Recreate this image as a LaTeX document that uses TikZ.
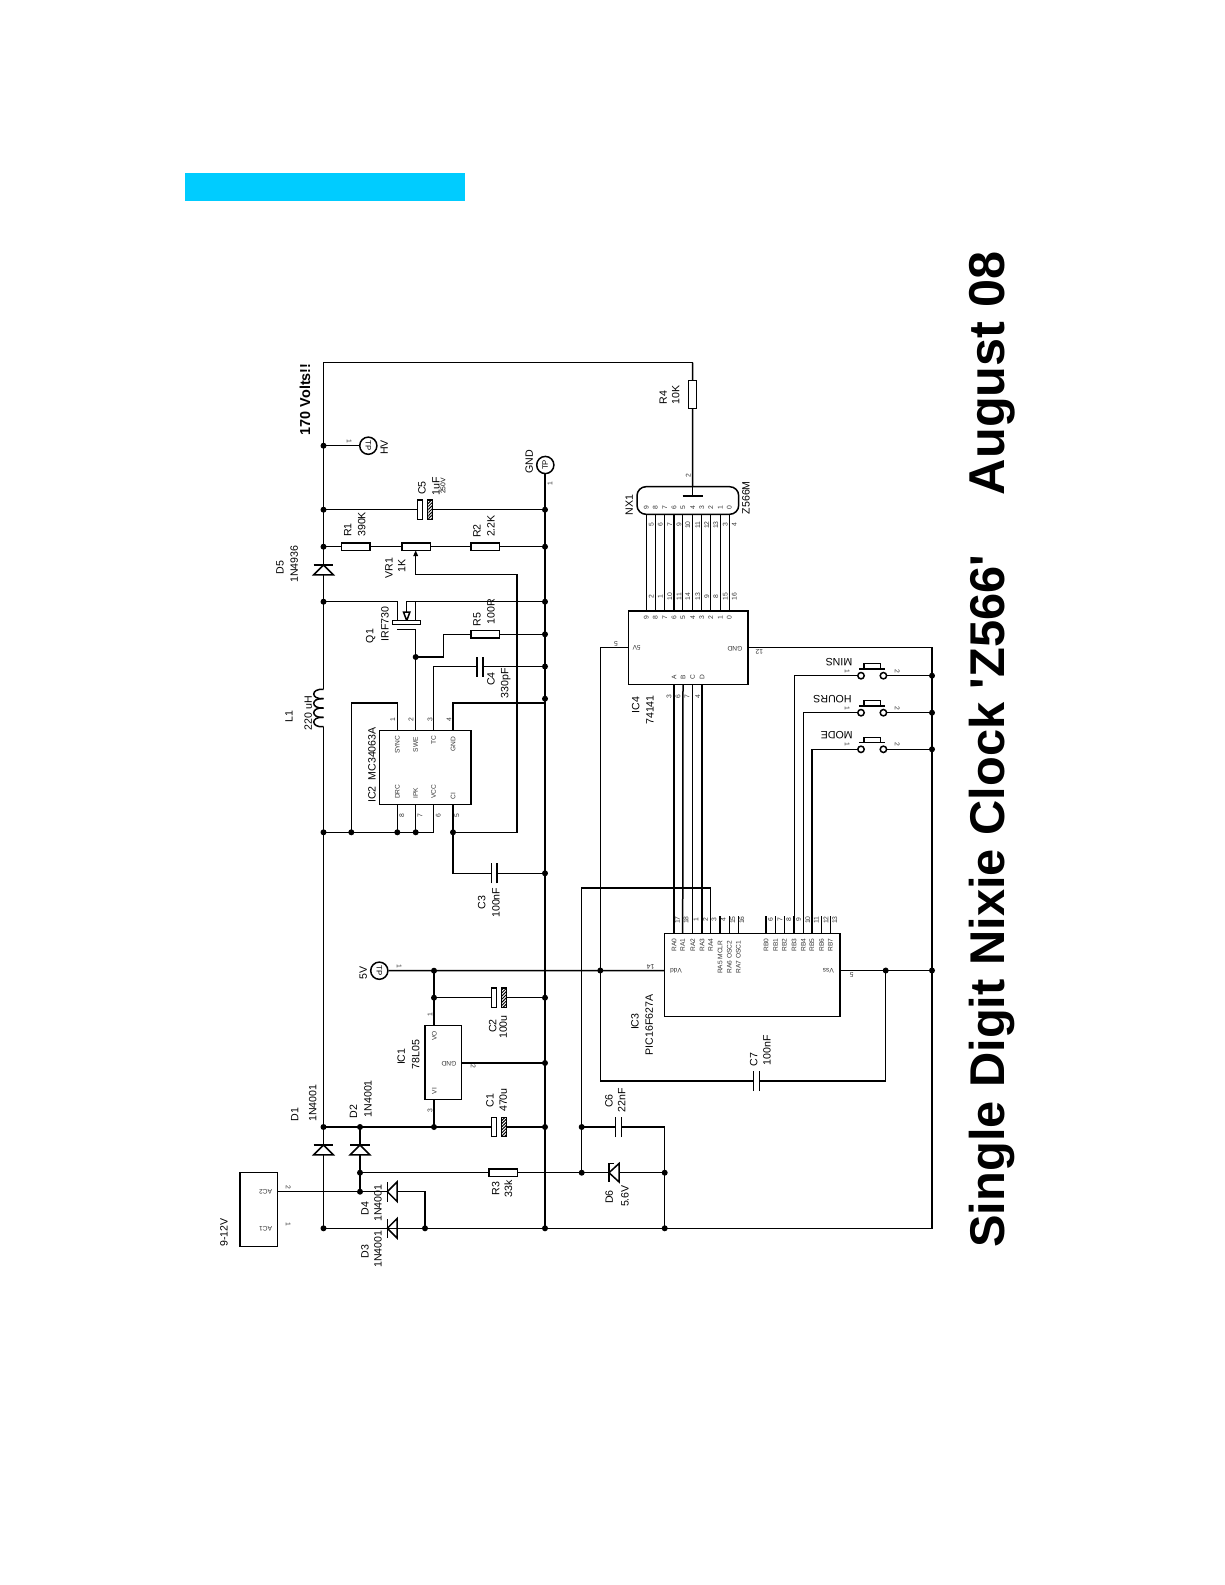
\documentclass[tikz,border=0pt]{standalone}
\usepackage{fontspec}
\setmainfont{Liberation Sans}
\newfontfamily\titlefont{Liberation Sans}
\usetikzlibrary{patterns.meta}

\definecolor{banner}{rgb}{0, 0.8, 1}

\tikzset{
	wire/.style={line width=0.75pt},
	tag/.style={font=\fontsize{5.3}{6}\selectfont, inner sep=0pt, rotate=90},
	pinno/.style={font=\fontsize{3.4}{4}\selectfont, inner sep=0pt, rotate=90, text=black!80},
	pinname/.style={font=\fontsize{3.3}{4}\selectfont, inner sep=0pt, rotate=90, text=black!80},
	heading/.style={font=\titlefont\bfseries\fontsize{24.4}{26}\selectfont, inner sep=0pt, rotate=90},
	dot/.style={circle, fill=black, inner sep=0pt, minimum size=3pt},
	chip/.style={draw, rectangle, wire, inner sep=0pt, outer sep=0pt, fill=white},
	reshoriz/.style={chip, minimum width=14.25pt, minimum height=3.8pt},
	resvert/.style={chip, minimum width=4.2pt, minimum height=14pt},
	testpoint/.style={draw, circle, wire, fill=white, inner sep=0pt, minimum size=8.6pt, font=\fontsize{3.9}{4}\selectfont},
	% pics are not flipped by the picture's yscale, so down is negative in them
	diode/.pic={
		\draw[wire] (-9.8,0) -- (9.8,0);
		\draw[wire] (0,0) -- (-9.8,-9.8) -- (9.8,-9.8) -- cycle;
		\coordinate (-k) at (0,0);
		\coordinate (-a) at (0,-9.8);
	},
	zener/.pic={
		\draw[wire] (9.2,-5) -- (9.2,0) -- (-9.2,0);
		\draw[wire] (0,0) -- (-9.2,-10) -- (9.2,-10) -- cycle;
		\coordinate (-k) at (0,0);
		\coordinate (-a) at (0,-10);
	},
	plaincap/.pic={
		\draw[wire] (-2.8,-10) -- (-2.8,10);
		\draw[wire] (2.8,-10) -- (2.8,10);
		\coordinate (-a) at (-2.8,0);
		\coordinate (-b) at (2.8,0);
	},
	polcap/.pic={
		\draw[wire] (-7.5,-9.6) rectangle (-2.5,9.6);
		\draw[wire, pattern={Lines[angle=45,distance=1.1pt,line width=0.5pt]}] (2.5,-9.6) rectangle (7.5,9.6);
		\coordinate (-a) at (-7.5,0);
		\coordinate (-b) at (7.5,0);
	},
	pushbtn/.pic={
		\draw[wire] (-11.2,0) circle (3.2);
		\draw[wire] (11.2,0) circle (3.2);
		\draw[wire] (-13.4,6.7) -- (13.2,6.7);
		\draw[wire] (-8.2,6.7) -- (-8.2,12) -- (8.2,12) -- (8.2,6.7);
		\coordinate (-a) at (-14.4,0);
		\coordinate (-b) at (14.4,0);
	}
}

\begin{document}
\begin{tikzpicture}[x=0.5pt,y=0.5pt,yscale=-1,xscale=1]
	\useasboundingbox (0,0) rectangle (1225,1585);

	% Banner and title
	\fill[banner] (185,173) rectangle (465,201);
	\node[heading, anchor=base west] (titlea) at (1004,1248) {Single Digit Nixie Clock 'Z566'};
	\node[heading, anchor=base east, font=\titlefont\bfseries\fontsize{25.2}{26}\selectfont] (titleb) at (1004,251) {August 08};

	% Named points on the wires
	\coordinate (railtop) at (323.5,362.7);
	\coordinate (topright) at (692.7,362.7);
	\coordinate (jhv) at (323.5,445.7);
	\coordinate (jc5) at (323.5,509.7);
	\coordinate (jr1) at (323.5,546.7);
	\coordinate (jdrain) at (323.5,601.7);
	\coordinate (lone) at (323.5,689.3);
	\coordinate (ltwo) at (323.5,726.7);
	\coordinate (jvcc) at (323.5,832.3);
	\coordinate (jin) at (323.5,1127);
	\coordinate (jac) at (323.5,1228.3);
	\coordinate (gtop) at (545,473);
	\coordinate (gc5) at (545,509.7);
	\coordinate (gr2) at (545,546.7);
	\coordinate (gq) at (545,601.7);
	\coordinate (gr5) at (545,634.3);
	\coordinate (gc4) at (545,666.5);
	\coordinate (gicdot) at (545,698.7);
	\coordinate (gic) at (545,703);
	\coordinate (gc3) at (545,873.3);
	\coordinate (gc2) at (545,997.7);
	\coordinate (gic1) at (545,1063);
	\coordinate (gc1) at (545,1127);
	\coordinate (gbot) at (545,1228.3);
	\coordinate (ic2a) at (397.3,730.7);
	\coordinate (ic2b) at (415.7,730.7);
	\coordinate (ic2c) at (433.7,730.7);
	\coordinate (ic2d) at (453,730.7);
	\coordinate (ic2h) at (397.3,804.7);
	\coordinate (ic2g) at (415.7,804.7);
	\coordinate (ic2f) at (433.7,804.7);
	\coordinate (ic2e) at (453,804.7);

	% Main rails
	\draw[wire] (topright) -- (railtop) -- (jr1);
	\draw[wire] (gtop) -- (gbot);
	\draw[wire] (jac) -- (932,1228.3) -- (932,647.7) -- (748,647.7);

	% Rail from D5 through L1 and on to D1
	\pic (D5) at (323.5,565) {diode};
	\pic (D1) at (323.5,1145) {diode};
	\draw[wire] (jr1) -- (D5-k);
	\draw[wire] (D5-a) -- (lone);
	\foreach \k in {0,1,2,3}
		\draw[wire] (323.5,689.3+9.35*\k) .. controls (310.5,688.3+9.35*\k) and (310.5,699.7+9.35*\k) .. (323.5,698.65+9.35*\k);
	\draw[wire] (ltwo) -- (D1-k);
	\draw[wire] (D1-a) -- (jac);

	% HV and GND test points
	\node[testpoint, rotate=-90] (tphv) at (368.3,445.7) {TP};
	\node[testpoint, rotate=90] (tpgnd) at (545.3,465) {TP};
	\draw[wire] (jhv) -- (tphv);
	\node[tag] (lhv) at (384.3,447.3) {HV};
	\node[tag] (lgnd) at (529.3,461.7) {GND};
	\node[pinno, rotate=-180] (phv) at (349.3,441) {1};
	\node[pinno] (pgnd) at (550,484) {1};
	\node[tag, font=\bfseries\fontsize{7.2}{8}\selectfont] (lvolts) at (305,399.3) {170 Volts!!};

	% C5
	\pic (C5) at (424.8,509.7) {polcap};
	\draw[wire] (jc5) -- (C5-a);
	\draw[wire] (C5-b) -- (gc5);
	\node[tag] (lc5) at (422,488) {C5};
	\node[tag] (vc5) at (436,486) {1uF};
	\node[tag, font=\fontsize{3.4}{4}\selectfont] (wc5) at (443,486) {250V};

	% R1, VR1, R2
	\node[reshoriz] (R1) at (355.6,546.7) {};
	\node[reshoriz] (VR1) at (416.1,546.7) {};
	\node[reshoriz] (R2) at (485.1,546.7) {};
	\draw[wire] (jr1) -- (R1.west);
	\draw[wire] (R1.east) -- (VR1.west);
	\draw[wire] (VR1.east) -- (R2.west);
	\draw[wire] (R2.east) -- (gr2);
	\node[tag] (lr1) at (347.7,530) {R1};
	\node[tag] (vr1) at (361.7,524.3) {390K};
	\node[tag] (lvr1) at (389,568.3) {VR1};
	\node[tag] (vvr1) at (401.7,565.7) {1K};
	\node[tag] (lr2) at (477,531) {R2};
	\node[tag] (vr2) at (491,526) {2.2K};
	\node[tag] (ld5) at (280,567.3) {D5};
	\node[tag] (vd5) at (294.3,564) {1N4936};

	% Wiper back to pin 5 of IC2
	\coordinate (jci) at (453,832.3);
	\draw[wire] (jci) -- (517,832.3) -- (517,574.3) -- (415.7,574.3) -- (415.7,552);
	\fill (415.7,550.5) -- (413.2,556) -- (418.2,556) -- cycle;

	% Q1
	\coordinate (jgate) at (415.7,657);
	\draw[wire] (jdrain) -- (397.3,601.7) -- (397.3,620.7);
	\draw[wire] (gq) -- (406.7,601.7) -- (406.7,612);
	\draw[wire] (415.7,601.7) -- (415.7,620.7);
	\draw[wire] (403.5,612) -- (409.9,612) -- (406.7,620.7) -- cycle;
	\node[chip, fill=white, minimum width=13.8pt, minimum height=2pt] (Q1bar) at (406.5,622.7) {};
	\draw[wire] (397.3,629.3) -- (415.7,629.3) -- (ic2b);
	\node[tag] (lq1) at (370.7,636) {Q1};
	\node[tag] (vq1) at (385,624) {IRF730};

	% R5
	\node[reshoriz] (R5) at (485.1,634.3) {};
	\draw[wire] (jgate) -- (443.3,657) -- (443.3,634.3) -- (R5.west);
	\draw[wire] (R5.east) -- (gr5);
	\node[tag] (lr5) at (477,619.3) {R5};
	\node[tag] (vr5) at (491,611.7) {100R};

	% C4
	\pic (C4) at (480,666.5) {plaincap};
	\draw[wire] (ic2c) -- (433.7,666.5) -- (C4-a);
	\draw[wire] (C4-b) -- (gc4);
	\node[tag] (lc4) at (491,679) {C4};
	\node[tag] (vc4) at (505.7,683) {330pF};

	% IC2
	\node[chip, minimum width=45.85pt, minimum height=37pt] (IC2) at (425.15,767.7) {};
	\draw[wire] (ic2a) -- (397.3,703) -- (351.3,703) -- (351.3,832.3);
	\draw[wire] (ic2d) -- (453,703) -- (gic);
	\draw[wire] (ic2h) -- (397.3,832.3);
	\draw[wire] (ic2g) -- (415.7,832.3);
	\draw[wire] (ic2f) -- (433.7,832.3) -- (jvcc);
	\draw[wire] (ic2e) -- (jci);
	\node[tag] (lic2) at (372,765) {IC2\hspace{3pt}MC34063A};
	\foreach \n/\x/\y/\p in {SYNC/397.3/744.7/1, SWE/415.7/744.7/2, TC/433.7/740/3, GND/453/744/4, DRC/397.3/791.7/8, IPK/415.7/793/7, VCC/433.7/792/6, CI/453/796/5}
		\node[pinname] (ica\p) at (\x,\y) {\n};
	\foreach \p/\x/\y in {1/392.7/720, 2/411/720, 3/430/720, 4/449/720, 8/401.7/816, 7/420/816, 6/438.3/816, 5/456.7/816}
		\node[pinno] (icb\p) at (\x,\y) {\p};

	% L1 labels
	\node[tag] (ll1) at (289,716.7) {L1};
	\node[tag] (vl1) at (308.3,713) {220 uH};

	% C3
	\pic (C3) at (494.2,873.3) {plaincap};
	\draw[wire] (jci) -- (453,873.3) -- (C3-a);
	\draw[wire] (C3-b) -- (gc3);
	\node[tag] (lc3) at (481.7,902.3) {C3};
	\node[tag] (vc3) at (496,902.7) {100nF};

	% 5V test point and line to Vdd
	\node[testpoint, rotate=-90] (tpfive) at (379.3,970.7) {TP};
	\coordinate (jfive) at (434,970.7);
	\coordinate (vplus) at (600.3,970.5);
	\draw[wire] (tpfive) -- (jfive) -- (vplus) -- (664.7,970.5);
	\node[tag] (lfive) at (363.3,972.7) {5V};
	\node[pinno, rotate=-180] (pfive) at (399.3,966.7) {1};

	% IC1 with C1 and C2
	\node[chip, minimum width=18.35pt, minimum height=37pt] (IC1) at (443.35,1062.3) {};
	\coordinate (jco) at (434,997.7);
	\coordinate (jci1) at (434,1127);
	\draw[wire] (jfive) -- (434,1025.3);
	\draw[wire] (434,1099.3) -- (jci1);
	\draw[wire] (461.7,1063) -- (gic1);
	\node[pinname] (tvo) at (434.3,1036) {VO};
	\node[pinname, rotate=90] (tgnd) at (449,1063.3) {GND};
	\node[pinname] (tvi) at (434.3,1091) {VI};
	\node[pinno] (p1a) at (430,1014.3) {1};
	\node[pinno, rotate=-180] (p1b) at (473.3,1066.7) {2};
	\node[pinno] (p1c) at (430,1110.7) {3};
	\node[tag] (lic1) at (401.3,1056.7) {IC1};
	\node[tag] (vic1) at (415.7,1054.3) {78L05};

	\pic (C2) at (498.8,997.7) {polcap};
	\draw[wire] (jco) -- (C2-a);
	\draw[wire] (C2-b) -- (gc2);
	\node[tag] (lc2) at (492.7,1026) {C2};
	\node[tag] (vc2) at (503.3,1027) {100u};

	\pic (C1) at (498.8,1127) {polcap};
	\draw[wire] (jin) -- (C1-a);
	\draw[wire] (C1-b) -- (gc1);
	\node[tag] (lc1) at (490,1100.7) {C1};
	\node[tag] (vc1) at (503.3,1100) {470u};

	% D2 and the AC input
	\coordinate (jdtwo) at (360,1127);
	\coordinate (jrthree) at (360,1172.7);
	\coordinate (jactwo) at (360,1191.7);
	\coordinate (jdfour) at (425,1228.3);
	\pic (D2) at (360,1145) {diode};
	\draw[wire] (jdtwo) -- (D2-k);
	\draw[wire] (D2-a) -- (jactwo);
	\node[chip, minimum width=18.85pt, minimum height=37pt] (ACin) at (258.85,1209.7) {};
	\draw[wire] (277.7,1191.7) -- (jactwo);
	\pic[rotate=90] (D4) at (387.3,1191.7) {diode};
	\pic[rotate=90] (D3) at (387.3,1228.3) {diode};
	\draw[wire] (jactwo) -- (D4-k);
	\draw[wire] (D4-a) -- (425,1191.7) -- (jdfour);
	\node[pinname, rotate=90] (tactwo) at (265.7,1191.7) {AC2};
	\node[pinname, rotate=90] (tacone) at (265.7,1228.3) {AC1};
	\node[pinno, rotate=-180] (pactwo) at (288.3,1187.3) {2};
	\node[pinno, rotate=-180] (pacone) at (288.3,1224) {1};
	\node[tag] (lac) at (224,1232.7) {9-12V};
	\node[tag] (ld1) at (294.7,1114.3) {D1};
	\node[tag] (vd1) at (312.7,1103.3) {1N4001};
	\node[tag] (ld2) at (353.3,1111.7) {D2};
	\node[tag] (vd2) at (368,1098.7) {1N4001};
	\node[tag] (ld4) at (365,1208.3) {D4};
	\node[tag] (vd4) at (378,1203.3) {1N4001};
	\node[tag] (ld3) at (365,1251.7) {D3};
	\node[tag] (vd3) at (378,1249) {1N4001};

	% R3, D6, C6
	\node[reshoriz] (R3) at (503.4,1172.7) {};
	\coordinate (jrthreeb) at (581.7,1172.7);
	\coordinate (jcsix) at (581.7,1127);
	\coordinate (jdsix) at (664.7,1172.7);
	\coordinate (jbot) at (664.7,1228.3);
	\draw[wire] (jrthree) -- (R3.west);
	\draw[wire] (R3.east) -- (jrthreeb);
	\pic[rotate=90] (D6) at (609,1172.7) {zener};
	\draw[wire] (jrthreeb) -- (D6-k);
	\draw[wire] (D6-a) -- (jdsix);
	\pic (C6) at (618.5,1127) {plaincap};
	\draw[wire] (jcsix) -- (C6-a);
	\draw[wire] (C6-b) -- (664.7,1127) -- (jbot);
	\node[tag] (lr3) at (495.7,1188.3) {R3};
	\node[tag] (vr3) at (508.3,1188.7) {33k};
	\node[tag] (ld6) at (609.3,1197) {D6};
	\node[tag] (vd6) at (625,1196) {5.6V};
	\node[tag] (lc6) at (609,1101) {C6};
	\node[tag] (vc6) at (621.7,1100) {22nF};

	% R4 and the nixie tube
	\node[resvert] (R4) at (692.5,394.5) {};
	\draw[wire] (topright) -- (R4.north);
	\draw[wire] (R4.south) -- (692.7,486.7);
	\node[chip, rounded corners=4.5pt, minimum width=50.85pt, minimum height=13.8pt] (NX1) at (687.85,500.5) {};
	\draw[wire] (692.7,486.7) -- (692.7,496);
	\draw[wire] (682.7,496) -- (702.7,496);
	\node[pinno] (pgrid) at (688.3,475.3) {2};
	\node[tag] (lr4) at (663.3,397.3) {R4};
	\node[tag] (vr4) at (675.7,395) {10K};
	\node[tag] (lnx) at (629.3,505) {NX1};
	\node[tag] (vnx) at (746,497.7) {Z566M};

	% IC4 with the ten lines up to the tube
	\node[chip, minimum width=59.85pt, minimum height=36.85pt] (IC4) at (688.15,647.85) {};
	\foreach \d/\x/\up/\lo in {9/646.3/5/2, 8/655.3/6/1, 7/664.7/7/10, 6/674/9/11, 5/682.7/10/14, 4/692.7/11/13, 3/701.7/12/9, 2/710.7/13/8, 1/720.3/3/15, 0/729.3/4/16} {
		\coordinate (nxb\d) at (\x,514.3);
		\coordinate (icf\d) at (\x,611);
		\draw[wire] (nxb\d) -- (icf\d);
		\node[pinno] (nxd\d) at (\x,507.7) {\d};
		\node[pinno] (icd\d) at (\x,617.7) {\d};
		\node[pinno] (nxp\d) at (\x+5,525) {\up};
		\node[pinno] (icp\d) at (\x+5,596.7) {\lo};
	}
	\node[pinname, rotate=90] (tfivev) at (636.7,647.7) {5V};
	\node[pinname, rotate=90] (tgndb) at (735,648.3) {GND};
	\node[pinno, rotate=90] (pfiveb) at (616,643.3) {5};
	\node[pinno, rotate=90] (ptwelve) at (759.3,652.3) {12};
	\node[tag] (lic4) at (635.7,705) {IC4};
	\node[tag] (vic4) at (650,710) {74141};
	\draw[wire] (628.3,647.7) -- (600.3,647.7) -- (vplus);

	% IC3 and its pins
	\node[chip, minimum width=87.65pt, minimum height=41.5pt] (IC3) at (752.35,975.2) {};
	\foreach \n/\x/\t/\p in {0/674/RA0/17, 1/682.7/RA1/18, 2/692.7/RA2/1, 3/702/RA3/2, 4/710.7/RA4/3} {
		\coordinate (icc\n) at (\x,933.7);
		\node[pinname] (tra\n) at (\x,945.3) {\t};
		\node[pinno] (pra\n) at (\x+3.4,920) {\p};
	}
	\foreach \n/\x in {A/674, B/683, C/692.7, D/702}
		\node[pinname] (tlet\n) at (\x,677) {\n};
	\foreach \n/\x/\t/\p in {5/720/RA5 MCLR/4, 6/729.3/RA6 OSC2/15, 7/738.3/RA7 OSC1/16} {
		\draw[wire] (\x,916) -- (\x,933.7);
		\node[pinname] (tra\n) at (\x,957.3) {\t};
		\node[pinno] (pra\n) at (\x+3.4,920) {\p};
	}
	\foreach \n/\x/\p in {0/766/6, 1/775.7/7, 2/784.3/8, 3/794/9, 4/803.3/10, 5/812/11, 6/821.7/12, 7/830.3/13} {
		\draw[wire] (\x,916) -- (\x,933.7);
		\node[pinname] (trb\n) at (\x,945.3) {RB\n};
		\node[pinno] (prb\n) at (\x+4.4,920) {\p};
	}
	\foreach \t/\x/\p in {0/669/3, 1/678/6, 2/687/7, 3/697.7/4}
		\node[pinno] (pabc\t) at (\x,696.7) {\p};
	\draw[wire] (674,684.7) -- (icc0);
	\draw[wire] (683,684.7) -- (icc1);
	\draw[wire] (692.7,684.7) -- (icc2);
	\draw[wire] (702,684.7) -- (icc3);
	\node[pinname, rotate=90] (tvdd) at (676,971) {Vdd};
	\node[pinname, rotate=90] (tvss) at (828.3,971) {Vss};
	\node[pinno, rotate=90] (pvdd) at (650.7,966.7) {14};
	\node[pinno, rotate=90] (pvss) at (851.7,975) {5};
	\node[tag] (lic3) at (635,1021.7) {IC3};
	\node[tag] (vic3) at (649.3,1025) {PIC16F627A};

	% RA4 round to D6, 5V rail and C7
	\draw[wire] (icc4) -- (710.7,888) -- (581.7,888) -- (jrthreeb);
	\coordinate (jvss) at (885.7,970.5);
	\coordinate (jright) at (932,970.5);
	\draw[wire] (840,970.5) -- (jright);
	\pic (C7) at (756.5,1081) {plaincap};
	\draw[wire] (vplus) -- (600.3,1081) -- (C7-a);
	\draw[wire] (C7-b) -- (885.7,1081) -- (jvss);
	\node[tag] (lc7) at (753.7,1059.3) {C7};
	\node[tag] (vc7) at (767,1050) {100nF};

	% Switches
	\foreach \n/\y/\x/\lx in {MINS/675.7/794.3/839, HOURS/712.7/803.3/832.5, MODE/749.3/812/836.7} {
		\pic (sw\n) at (872.2,\y) {pushbtn};
		\draw[wire] (\x,933.7) -- (\x,\y) -- (sw\n-a);
		\draw[wire] (sw\n-b) -- (932,\y);
		\node[tag, rotate=90] (lsw\n) at (\lx,\y-14) {\n};
		\node[pinno, rotate=-180] (psa\n) at (847.3,\y-4.7) {1};
		\node[pinno, rotate=-180] (psb\n) at (897.3,\y-4.7) {2};
		\node[dot] (dsw\n) at (932,\y) {};
	}

	% Junction dots
	\foreach \j in {jhv,jc5,jr1,jdrain,jvcc,jin,jac,gc5,gr2,gq,gr5,gc4,gicdot,gc3,gc2,gic1,gc1,gbot,jgate,jci,jfive,jco,jci1,jdtwo,jrthree,jactwo,jdfour,jrthreeb,jcsix,jdsix,jbot,vplus,jvss,jright}
		\node[dot] (dot\j) at (\j) {};
	\node[dot] (dotp) at (351.3,832.3) {};
	\node[dot] (dotq) at (397.3,832.3) {};
	\node[dot] (dotr) at (415.7,832.3) {};
\end{tikzpicture}
\end{document}
